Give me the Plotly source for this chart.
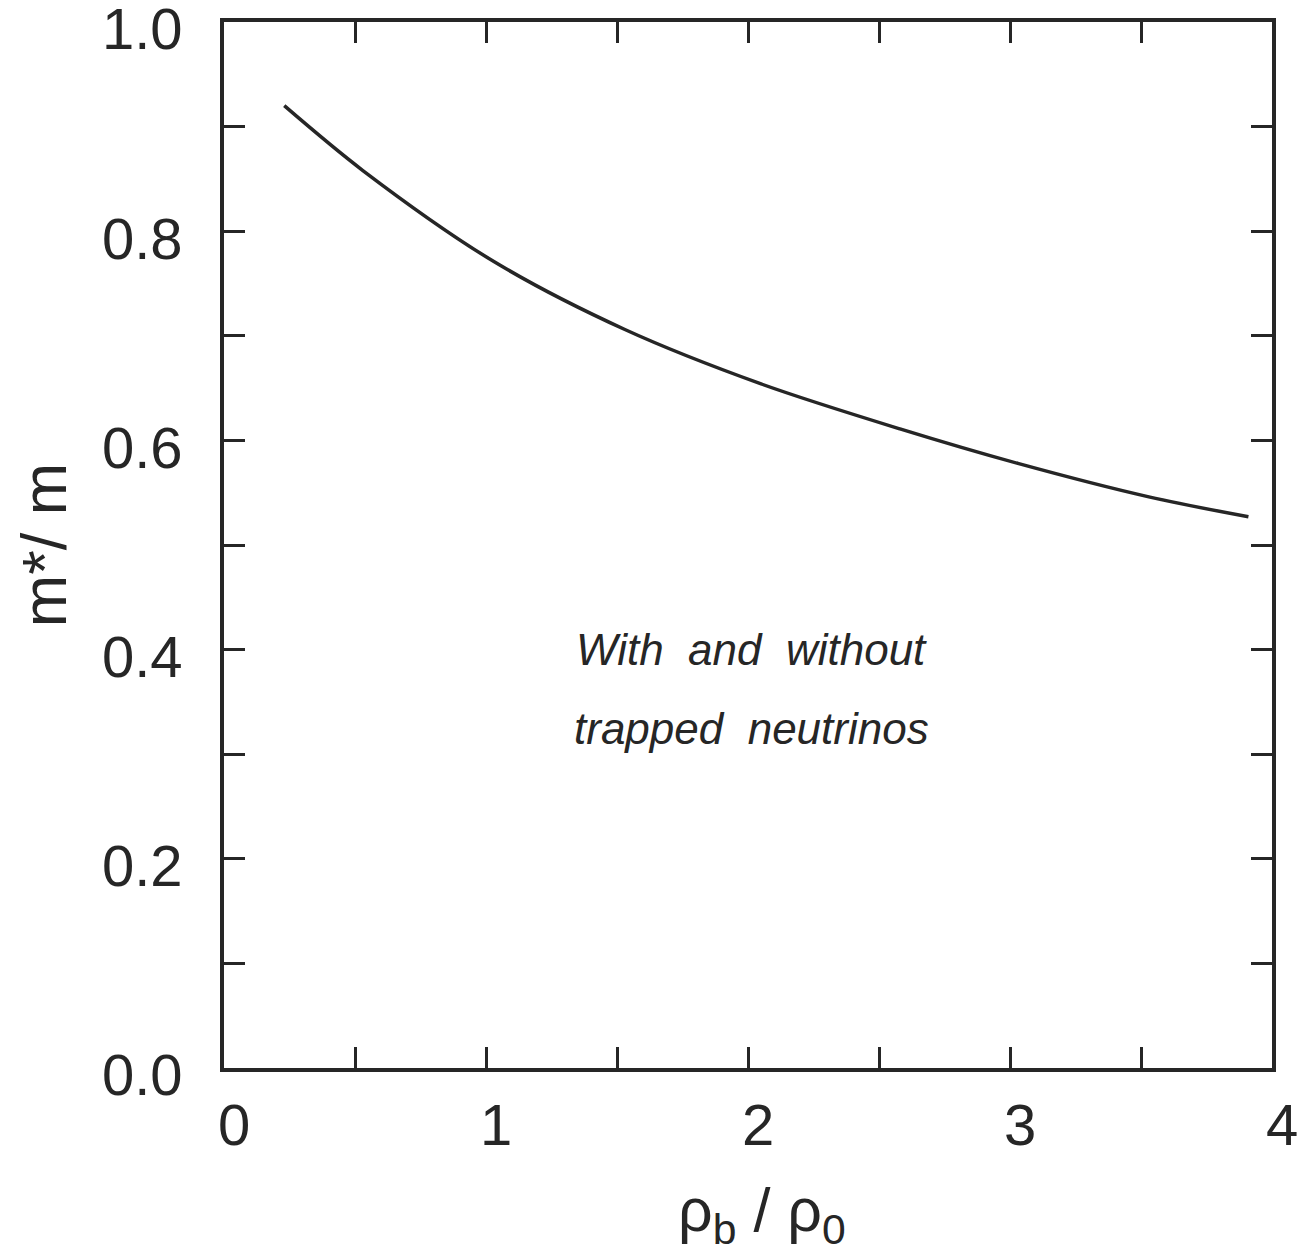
import plotly.graph_objects as go

# Data
rho_ratio = [0.23, 0.53, 1.03, 1.53, 2.05, 2.58, 3.03, 3.53, 3.91]
m_eff = [0.920, 0.858, 0.771, 0.706, 0.654, 0.611, 0.578, 0.546, 0.527]

x_tick_vals = [0, 1, 2, 3, 4]
x_tick_text = ["0", "1", "2", "3", "4"]
y_tick_vals = [0.0, 0.2, 0.4, 0.6, 0.8, 1.0]
y_tick_text = ["0.0", "0.2", "0.4", "0.6", "0.8", "1.0"]

ink = "#262626"
font_family = "Liberation Sans, Arial, Helvetica, sans-serif"

fig = go.Figure()
fig.add_trace(go.Scatter(
    x=rho_ratio, y=m_eff, mode="lines",
    line=dict(color=ink, width=3.5, shape="spline", smoothing=0.9),
    showlegend=False, hoverinfo="skip",
))

fig.add_annotation(x=2.015, y=0.40, xref="x", yref="y",
                   text="<i>With\u00a0\u00a0and\u00a0\u00a0without</i>",
                   showarrow=False, font=dict(size=44, color=ink, family=font_family))
fig.add_annotation(x=2.015, y=0.325, xref="x", yref="y",
                   text="<i>trapped\u00a0\u00a0neutrinos</i>",
                   showarrow=False, font=dict(size=44, color=ink, family=font_family))
# x-axis title
fig.add_annotation(x=0.513, y=-0.1013, xref="paper", yref="paper",
                   text="ρ<sub>b</sub> / ρ<sub>0</sub>", showarrow=False,
                   xanchor="center", yanchor="top",
                   font=dict(size=61, color=ink, family=font_family))

axis_common = dict(
    showline=True, linecolor=ink, linewidth=3.5, mirror="ticks",
    ticks="inside", ticklen=21, tickwidth=2.5, tickcolor=ink,
    showgrid=False, zeroline=False, ticklabeloverflow="allow",
    tickfont=dict(size=58, color=ink, family=font_family),
)

fig.update_xaxes(
    range=[0, 4], tickmode="array", tickvals=x_tick_vals, ticktext=x_tick_text,
    minor=dict(dtick=0.5, ticks="inside", ticklen=21, tickwidth=2.5, tickcolor=ink, showgrid=False),
    ticklabelstandoff=4, ticklabelshift=10,
    **axis_common,
)
fig.update_yaxes(
    range=[0, 1.0], tickmode="array", tickvals=y_tick_vals, ticktext=y_tick_text,
    minor=dict(dtick=0.1, ticks="inside", ticklen=21, tickwidth=2.5, tickcolor=ink, showgrid=False),
    ticklabelstandoff=26, ticklabelshift=7,
    title=dict(text="m*/\u00a0m\u00a0", font=dict(size=63, color=ink, family=font_family), standoff=16),
    **axis_common,
)

fig.update_layout(
    width=1305, height=1259,
    margin=dict(l=216, r=41, t=14, b=199, autoexpand=False),
    paper_bgcolor="white", plot_bgcolor="white",
)

fig.write_html("out.html")
